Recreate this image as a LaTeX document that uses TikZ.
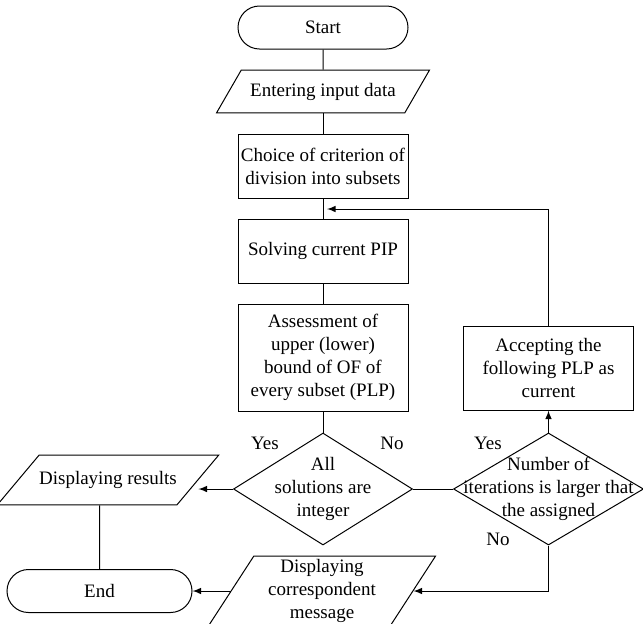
\documentclass[tikz,border=0pt]{standalone}
\usepackage{fontspec}
\setmainfont{Liberation Serif}
\usetikzlibrary{shapes.geometric,shapes.misc}

\begin{document}
\begin{tikzpicture}[x=0.5pt,y=-0.5pt,>=latex,line width=0.5pt,
		font=\rmfamily\fontsize{9.5}{11.5}\selectfont,
		every node/.style={inner sep=0pt,align=center},
		box/.style={draw,rectangle,minimum width=85pt,minimum height=32pt},
		term/.style={draw,rounded rectangle,minimum height=21.5pt},
		io/.style={draw,trapezium,trapezium stretches body},
		decide/.style={draw,diamond,minimum height=56pt}]
		\useasboundingbox (0,0) rectangle (643,623);
		%Main column
		\node[term,minimum width=85pt] (start) at (323,27.5) {Start};
		\node[io,trapezium left angle=60,trapezium right angle=120,minimum width=106.5pt,inner ysep=6.4pt] (input) at (323,91.5) {Entering input data};
		\node[box] (choice) at (323,166) {Choice of criterion of\\division into subsets};
		\node[box] (solve) at (323,251) {Solving current PIP};
		\node[box,minimum height=53.5pt] (assess) at (323,357.5) {Assessment of\\upper (lower)\\bound of OF of\\every subset (PLP)};
		\node[decide,minimum width=89.5pt,label=center:{All\\solutions are\\integer}] (all) at (323,489) {};
		%Right column
		\node[box,minimum height=42pt] (accept) at (548.5,368) {Accepting the\\following PLP as\\current};
		\node[decide,minimum width=95pt,label=center:{Number of\\iterations is larger that\\the assigned}] (num) at (548.5,489) {};
		%Left and bottom
		\node[io,trapezium left angle=50,trapezium right angle=130,minimum width=100pt,inner ysep=8.15pt] (results) at (108,480) {Displaying results};
		\node[term,minimum width=92.5pt] (end) at (99.5,591) {End};
		\node[io,trapezium left angle=57,trapezium right angle=123,minimum width=113.5pt,inner ysep=1.6pt] (msg) at (322,591) {Displaying\\correspondent\\message};
		%Yes/No
		\node (yes1) at (265,443) {Yes};
		\node (no1) at (392,443) {No};
		\node (yes2) at (488,443) {Yes};
		\node (no2) at (498,539) {No};
		\coordinate (join) at (327,209);
		%Lines
		\draw (start) -- (input);
		\draw (input) -- (choice);
		\draw (choice) -- (solve);
		\draw (solve) -- (assess);
		\draw (assess) -- (all);
		\draw (all) -- (num);
		\draw (results.south -| end.north) -- (end);
		%Arrows
		\draw[->] (accept.north) |- (join);
		\draw[->] (num) -- (accept);
		\draw[->] (all.west) -- (all.west -| results.east);
		\draw[->] (num.south) |- (msg.east);
		\draw[->] (msg.west) -- (msg.west -| end.east);
\end{tikzpicture}
\end{document}
